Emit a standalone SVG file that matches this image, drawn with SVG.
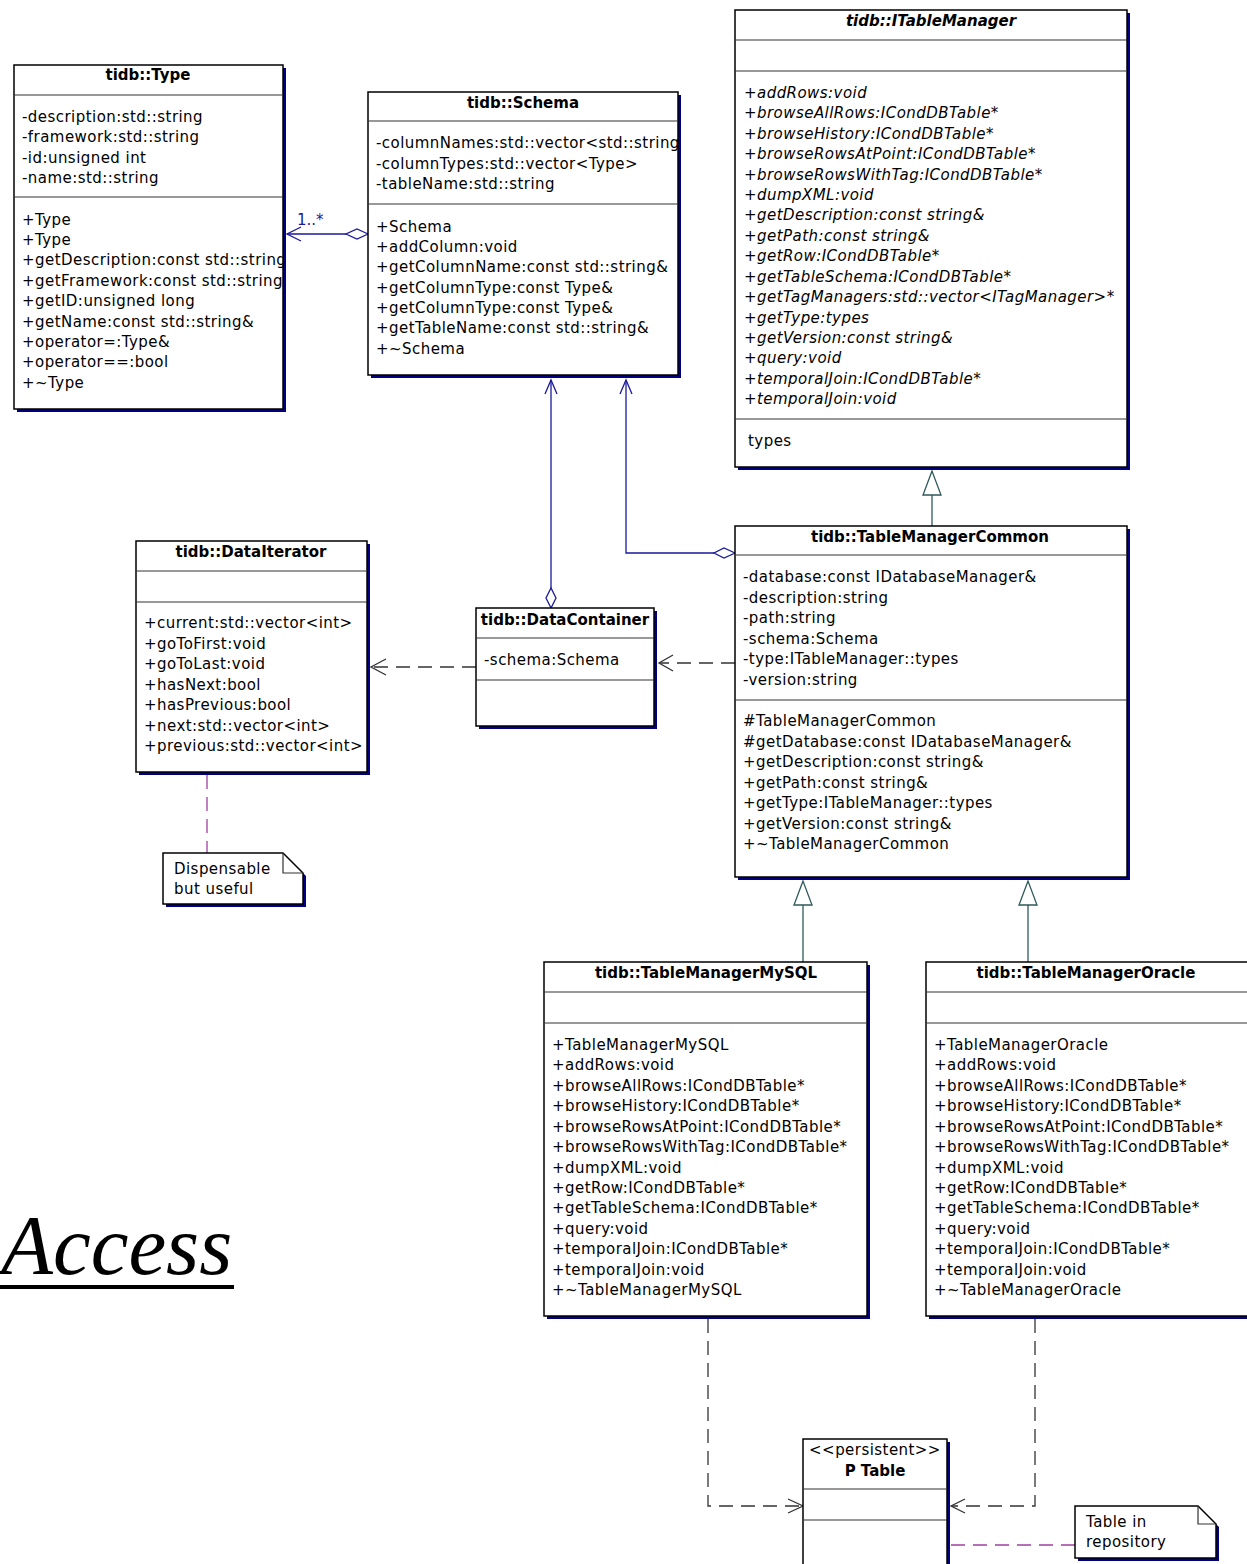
<svg xmlns="http://www.w3.org/2000/svg" width="1247" height="1564" viewBox="0 0 1247 1564">
<defs>
<style>
.bg{fill:#fff}
.shadow{fill:#000080}
.box{fill:#fff;stroke:#000;stroke-width:1.5}
.sep{stroke:#333;stroke-width:1.2;fill:none}
.t{font-family:"DejaVu Sans",sans-serif;font-size:15px;fill:#000;letter-spacing:0.45px}
.h{font-weight:bold;text-anchor:middle;letter-spacing:0px}
.i{font-style:italic}
.assoc{stroke:#1a1a9a;stroke-width:1.3;fill:none}
.dia{stroke:#1a1a9a;stroke-width:1.3;fill:#fff}
.gen{stroke:#2f5a5a;stroke-width:1.3;fill:none}
.tri{stroke:#2f5a5a;stroke-width:1.3;fill:#fff}
.dep{stroke:#333;stroke-width:1.3;fill:none;stroke-dasharray:14 8}
.arr{stroke:#333;stroke-width:1.3;fill:none}
.nl{stroke:#a040a0;stroke-width:1.3;fill:none;stroke-dasharray:14 8}
</style>
<clipPath id="cType"><rect x="14" y="65" width="269" height="344"/></clipPath>
<clipPath id="cSchema"><rect x="368" y="92" width="310" height="283"/></clipPath>
</defs>
<rect class="bg" x="0" y="0" width="1247" height="1564"/>

<g id="connectors">
  <!-- Schema aggregates Type -->
  <line class="assoc" x1="287" y1="234" x2="346" y2="234"/>
  <polygon class="dia" points="368,234 357,229 346,234 357,239"/>
  <polyline class="assoc" points="301,227 287,234 301,241"/>
  <text x="297" y="225" style="font-family:'DejaVu Sans',sans-serif;font-size:15px;fill:#1a1a9a">1..*</text>
  <!-- DataContainer aggregates Schema -->
  <line class="assoc" x1="551" y1="380" x2="551" y2="588"/>
  <polygon class="dia" points="551,608 546,598 551,588 556,598"/>
  <polyline class="assoc" points="545,394 551,380 557,394"/>
  <!-- TableManagerCommon aggregates Schema -->
  <polyline class="assoc" points="714,553 626,553 626,380"/>
  <polygon class="dia" points="735,553 724,548 714,553 724,558"/>
  <polyline class="assoc" points="620,394 626,380 632,394"/>
  <!-- Generalizations -->
  <line class="gen" x1="932" y1="526" x2="932" y2="495"/>
  <polygon class="tri" points="932,471 923,495 941,495"/>
  <line class="gen" x1="803" y1="962" x2="803" y2="905"/>
  <polygon class="tri" points="803,881 794,905 812,905"/>
  <line class="gen" x1="1028" y1="962" x2="1028" y2="905"/>
  <polygon class="tri" points="1028,881 1019,905 1037,905"/>
  <!-- Dependencies -->
  <line class="dep" x1="735" y1="663" x2="660" y2="663"/>
  <polyline class="arr" points="673,655 659,663 673,671"/>
  <line class="dep" x1="476" y1="667" x2="372" y2="667"/>
  <polyline class="arr" points="386,659 371,667 386,675"/>
  <polyline class="dep" points="708,1319 708,1506 801,1506"/>
  <polyline class="arr" points="788,1499 803,1506 788,1513"/>
  <polyline class="dep" points="1035,1319 1035,1506 952,1506"/>
  <polyline class="arr" points="965,1499 951,1506 965,1513"/>
  <!-- Note links -->
  <line class="nl" x1="207" y1="775" x2="207" y2="853"/>
  <line class="nl" x1="951" y1="1545" x2="1075" y2="1545"/>
</g>

<g id="Type">
  <rect class="shadow" x="17" y="68" width="269" height="344"/>
  <rect class="box" x="14" y="65" width="269" height="344"/>
  <line class="sep" x1="14" y1="95" x2="283" y2="95"/>
  <line class="sep" x1="14" y1="197" x2="283" y2="197"/>
  <text class="t h" x="148" y="80">tidb::Type</text>
  <g clip-path="url(#cType)">
  <text class="t" x="22" y="122">-description:std::string</text>
  <text class="t" x="22" y="142">-framework:std::string</text>
  <text class="t" x="22" y="163">-id:unsigned int</text>
  <text class="t" x="22" y="183">-name:std::string</text>
  <text class="t" x="22" y="225">+Type</text>
  <text class="t" x="22" y="245">+Type</text>
  <text class="t" x="22" y="265">+getDescription:const std::string&amp;</text>
  <text class="t" x="22" y="286">+getFramework:const std::string&amp;</text>
  <text class="t" x="22" y="306">+getID:unsigned long</text>
  <text class="t" x="22" y="327">+getName:const std::string&amp;</text>
  <text class="t" x="22" y="347">+operator=:Type&amp;</text>
  <text class="t" x="22" y="367">+operator==:bool</text>
  <text class="t" x="22" y="388">+~Type</text>
  </g>
</g>

<g id="Schema">
  <rect class="shadow" x="371" y="95" width="310" height="283"/>
  <rect class="box" x="368" y="92" width="310" height="283"/>
  <line class="sep" x1="368" y1="121" x2="678" y2="121"/>
  <line class="sep" x1="368" y1="204" x2="678" y2="204"/>
  <text class="t h" x="523" y="108">tidb::Schema</text>
  <g clip-path="url(#cSchema)">
  <text class="t" x="376" y="148">-columnNames:std::vector&lt;std::string&gt;</text>
  <text class="t" x="376" y="169">-columnTypes:std::vector&lt;Type&gt;</text>
  <text class="t" x="376" y="189">-tableName:std::string</text>
  <text class="t" x="376" y="232">+Schema</text>
  <text class="t" x="376" y="252">+addColumn:void</text>
  <text class="t" x="376" y="272">+getColumnName:const std::string&amp;</text>
  <text class="t" x="376" y="293">+getColumnType:const Type&amp;</text>
  <text class="t" x="376" y="313">+getColumnType:const Type&amp;</text>
  <text class="t" x="376" y="333">+getTableName:const std::string&amp;</text>
  <text class="t" x="376" y="354">+~Schema</text>
  </g>
</g>

<g id="ITableManager">
  <rect class="shadow" x="738" y="13" width="392" height="457"/>
  <rect class="box" x="735" y="10" width="392" height="457"/>
  <line class="sep" x1="735" y1="40" x2="1127" y2="40"/>
  <line class="sep" x1="735" y1="71" x2="1127" y2="71"/>
  <line class="sep" x1="735" y1="419" x2="1127" y2="419"/>
  <text class="t h i" x="931" y="26">tidb::ITableManager</text>
  <text class="t i" x="744" y="98">+addRows:void</text>
  <text class="t i" x="744" y="118">+browseAllRows:ICondDBTable*</text>
  <text class="t i" x="744" y="139">+browseHistory:ICondDBTable*</text>
  <text class="t i" x="744" y="159">+browseRowsAtPoint:ICondDBTable*</text>
  <text class="t i" x="744" y="180">+browseRowsWithTag:ICondDBTable*</text>
  <text class="t i" x="744" y="200">+dumpXML:void</text>
  <text class="t i" x="744" y="220">+getDescription:const string&amp;</text>
  <text class="t i" x="744" y="241">+getPath:const string&amp;</text>
  <text class="t i" x="744" y="261">+getRow:ICondDBTable*</text>
  <text class="t i" x="744" y="282">+getTableSchema:ICondDBTable*</text>
  <text class="t i" x="744" y="302">+getTagManagers:std::vector&lt;ITagManager&gt;*</text>
  <text class="t i" x="744" y="323">+getType:types</text>
  <text class="t i" x="744" y="343">+getVersion:const string&amp;</text>
  <text class="t i" x="744" y="363">+query:void</text>
  <text class="t i" x="744" y="384">+temporalJoin:ICondDBTable*</text>
  <text class="t i" x="744" y="404">+temporalJoin:void</text>
  <text class="t" x="748" y="446">types</text>
</g>

<g id="TableManagerCommon">
  <rect class="shadow" x="738" y="529" width="392" height="351"/>
  <rect class="box" x="735" y="526" width="392" height="351"/>
  <line class="sep" x1="735" y1="555" x2="1127" y2="555"/>
  <line class="sep" x1="735" y1="700" x2="1127" y2="700"/>
  <text class="t h" x="930" y="542">tidb::TableManagerCommon</text>
  <text class="t" x="743" y="582">-database:const IDatabaseManager&amp;</text>
  <text class="t" x="743" y="603">-description:string</text>
  <text class="t" x="743" y="623">-path:string</text>
  <text class="t" x="743" y="644">-schema:Schema</text>
  <text class="t" x="743" y="664">-type:ITableManager::types</text>
  <text class="t" x="743" y="685">-version:string</text>
  <text class="t" x="743" y="726">#TableManagerCommon</text>
  <text class="t" x="743" y="747">#getDatabase:const IDatabaseManager&amp;</text>
  <text class="t" x="743" y="767">+getDescription:const string&amp;</text>
  <text class="t" x="743" y="788">+getPath:const string&amp;</text>
  <text class="t" x="743" y="808">+getType:ITableManager::types</text>
  <text class="t" x="743" y="829">+getVersion:const string&amp;</text>
  <text class="t" x="743" y="849">+~TableManagerCommon</text>
</g>

<g id="DataIterator">
  <rect class="shadow" x="139" y="544" width="231" height="231"/>
  <rect class="box" x="136" y="541" width="231" height="231"/>
  <line class="sep" x1="136" y1="571" x2="367" y2="571"/>
  <line class="sep" x1="136" y1="602" x2="367" y2="602"/>
  <text class="t h" x="251" y="557">tidb::DataIterator</text>
  <text class="t" x="144" y="628">+current:std::vector&lt;int&gt;</text>
  <text class="t" x="144" y="649">+goToFirst:void</text>
  <text class="t" x="144" y="669">+goToLast:void</text>
  <text class="t" x="144" y="690">+hasNext:bool</text>
  <text class="t" x="144" y="710">+hasPrevious:bool</text>
  <text class="t" x="144" y="731">+next:std::vector&lt;int&gt;</text>
  <text class="t" x="144" y="751">+previous:std::vector&lt;int&gt;</text>
</g>

<g id="DataContainer">
  <rect class="shadow" x="479" y="611" width="178" height="118"/>
  <rect class="box" x="476" y="608" width="178" height="118"/>
  <line class="sep" x1="476" y1="638" x2="654" y2="638"/>
  <line class="sep" x1="476" y1="680" x2="654" y2="680"/>
  <text class="t h" x="565" y="625">tidb::DataContainer</text>
  <text class="t" x="484" y="665">-schema:Schema</text>
</g>

<g id="NoteDispensable">
  <polygon class="shadow" points="166,856 286,856 306,876 306,907 166,907"/>
  <polygon class="box" points="163,853 283,853 303,873 303,904 163,904"/>
  <polyline class="sep" points="283,853 283,873 303,873"/>
  <text class="t" x="174" y="874">Dispensable</text>
  <text class="t" x="174" y="894">but useful</text>
</g>

<g id="TableManagerMySQL">
  <rect class="shadow" x="547" y="965" width="323" height="354"/>
  <rect class="box" x="544" y="962" width="323" height="354"/>
  <line class="sep" x1="544" y1="992" x2="867" y2="992"/>
  <line class="sep" x1="544" y1="1023" x2="867" y2="1023"/>
  <text class="t h" x="706" y="978">tidb::TableManagerMySQL</text>
  <text class="t" x="552" y="1050">+TableManagerMySQL</text>
  <text class="t" x="552" y="1070">+addRows:void</text>
  <text class="t" x="552" y="1091">+browseAllRows:ICondDBTable*</text>
  <text class="t" x="552" y="1111">+browseHistory:ICondDBTable*</text>
  <text class="t" x="552" y="1132">+browseRowsAtPoint:ICondDBTable*</text>
  <text class="t" x="552" y="1152">+browseRowsWithTag:ICondDBTable*</text>
  <text class="t" x="552" y="1173">+dumpXML:void</text>
  <text class="t" x="552" y="1193">+getRow:ICondDBTable*</text>
  <text class="t" x="552" y="1213">+getTableSchema:ICondDBTable*</text>
  <text class="t" x="552" y="1234">+query:void</text>
  <text class="t" x="552" y="1254">+temporalJoin:ICondDBTable*</text>
  <text class="t" x="552" y="1275">+temporalJoin:void</text>
  <text class="t" x="552" y="1295">+~TableManagerMySQL</text>
</g>

<g id="TableManagerOracle">
  <rect class="shadow" x="929" y="965" width="323" height="354"/>
  <rect class="box" x="926" y="962" width="323" height="354"/>
  <line class="sep" x1="926" y1="992" x2="1249" y2="992"/>
  <line class="sep" x1="926" y1="1023" x2="1249" y2="1023"/>
  <text class="t h" x="1086" y="978">tidb::TableManagerOracle</text>
  <text class="t" x="934" y="1050">+TableManagerOracle</text>
  <text class="t" x="934" y="1070">+addRows:void</text>
  <text class="t" x="934" y="1091">+browseAllRows:ICondDBTable*</text>
  <text class="t" x="934" y="1111">+browseHistory:ICondDBTable*</text>
  <text class="t" x="934" y="1132">+browseRowsAtPoint:ICondDBTable*</text>
  <text class="t" x="934" y="1152">+browseRowsWithTag:ICondDBTable*</text>
  <text class="t" x="934" y="1173">+dumpXML:void</text>
  <text class="t" x="934" y="1193">+getRow:ICondDBTable*</text>
  <text class="t" x="934" y="1213">+getTableSchema:ICondDBTable*</text>
  <text class="t" x="934" y="1234">+query:void</text>
  <text class="t" x="934" y="1254">+temporalJoin:ICondDBTable*</text>
  <text class="t" x="934" y="1275">+temporalJoin:void</text>
  <text class="t" x="934" y="1295">+~TableManagerOracle</text>
</g>

<g id="PTable">
  <rect class="shadow" x="806" y="1442" width="144" height="140"/>
  <rect class="box" x="803" y="1439" width="144" height="140"/>
  <line class="sep" x1="803" y1="1489" x2="947" y2="1489"/>
  <line class="sep" x1="803" y1="1520" x2="947" y2="1520"/>
  <text class="t" x="875" y="1455" text-anchor="middle">&lt;&lt;persistent&gt;&gt;</text>
  <text class="t h" x="875" y="1476">P Table</text>
</g>

<g id="NoteRepository">
  <polygon class="shadow" points="1078,1509 1201,1509 1219,1527 1219,1561 1078,1561"/>
  <polygon class="box" points="1075,1506 1198,1506 1216,1524 1216,1558 1075,1558"/>
  <polyline class="sep" points="1198,1506 1198,1524 1216,1524"/>
  <text class="t" x="1086" y="1527">Table in</text>
  <text class="t" x="1086" y="1547">repository</text>
</g>

<g id="Title">
  <text x="1" y="1274" style="font-family:'Liberation Serif',serif;font-style:italic;font-size:85px;fill:#000">Access</text>
  <rect x="0" y="1285" width="234" height="4" fill="#000"/>
</g>
</svg>
